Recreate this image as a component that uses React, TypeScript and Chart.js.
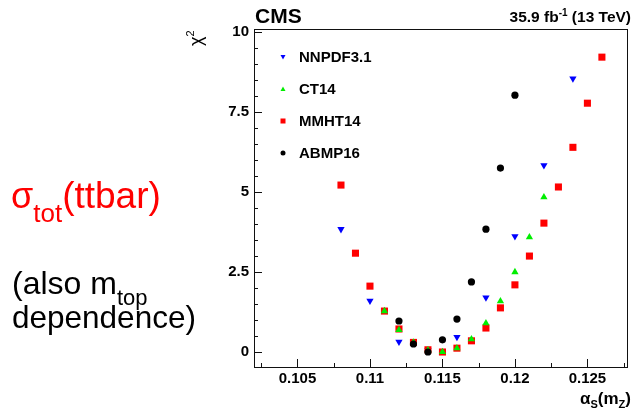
import React, { useEffect, useRef } from "react";
import { Chart, registerables } from "chart.js";
Chart.register(...registerables);

const FONT = '"Liberation Sans", Arial, Helvetica, sans-serif';

// alpha_s(mZ) values and chi2 for each PDF set
const nnpdfX = [0.108, 0.11, 0.112, 0.114, 0.116, 0.118, 0.12, 0.122, 0.124];
const nnpdfY = [3.84, 1.6, 0.32, 0.05, 0.47, 1.7, 3.62, 5.84, 8.55];

const ct14X = [0.111, 0.112, 0.113, 0.114, 0.115, 0.116, 0.117, 0.118, 0.119, 0.12, 0.121, 0.122];
const ct14Y = [1.28, 0.69, 0.3, 0.06, 0.0, 0.12, 0.4, 0.9, 1.59, 2.5, 3.59, 4.84];

const mmhtX = [0.108, 0.109, 0.11, 0.111, 0.112, 0.113, 0.114, 0.115, 0.116, 0.117, 0.118, 0.119, 0.12, 0.121, 0.122, 0.123, 0.124, 0.125, 0.126];
const mmhtY = [5.22, 3.09, 2.06, 1.28, 0.72, 0.3, 0.07, 0.0, 0.12, 0.35, 0.75, 1.38, 2.1, 3.0, 4.03, 5.16, 6.4, 7.78, 9.22];

const abmpX = [0.112, 0.113, 0.114, 0.115, 0.116, 0.117, 0.118, 0.119, 0.12];
const abmpY = [0.97, 0.25, 0.0, 0.38, 1.03, 2.19, 3.84, 5.75, 8.03];

const seriesNames = ["NNPDF3.1", "CT14", "MMHT14", "ABMP16"];

const xTickValues = [0.105, 0.11, 0.115, 0.12, 0.125];
const xMinorValues = [0.1025, 0.1075, 0.1125, 0.1175, 0.1225, 0.1275];
const yTickValues = [0, 2.5, 5, 7.5, 10];
const yMinorValues = [0.5, 1, 1.5, 2, 3, 3.5, 4, 4.5, 5.5, 6, 6.5, 7, 8, 8.5, 9, 9.5];

const toPts = (xs: number[], ys: number[]) => xs.map((x, i) => ({ x, y: ys[i] }));

const deco = {
  id: "deco",
  afterDraw(chart: any) {
    const { ctx, chartArea: a, scales } = chart;
    const xs = scales.x;
    const ys = scales.y;
    ctx.save();
    // frame
    ctx.strokeStyle = "#111";
    ctx.lineWidth = 1;
    ctx.strokeRect(a.left + 0.5, a.top + 0.5, a.right - a.left - 1, a.bottom - a.top - 1);
    const line = (x1: number, y1: number, x2: number, y2: number) => {
      ctx.beginPath();
      ctx.moveTo(x1, y1);
      ctx.lineTo(x2, y2);
      ctx.stroke();
    };
    yTickValues.forEach((v) => {
      const y = Math.round(ys.getPixelForValue(v)) + 0.5;
      line(a.left, y, a.left + 8, y);
    });
    yMinorValues.forEach((v) => {
      const y = Math.round(ys.getPixelForValue(v)) + 0.5;
      line(a.left, y, a.left + 4, y);
    });
    xTickValues.forEach((v) => {
      const x = Math.round(xs.getPixelForValue(v)) + 0.5;
      line(x, a.bottom, x, a.bottom - 9);
    });
    xMinorValues.forEach((v) => {
      const x = Math.round(xs.getPixelForValue(v)) + 0.5;
      line(x, a.bottom, x, a.bottom - 5);
    });

    ctx.textAlign = "left";
    ctx.textBaseline = "alphabetic";
    ctx.fillStyle = "#000";

    // CMS label
    ctx.font = `bold 21px ${FONT}`;
    ctx.fillText("CMS", 255, 23);

    // luminosity label, right aligned
    const p1 = "35.9 fb";
    const p2 = "-1";
    const p3 = " (13 TeV)";
    ctx.font = `bold 15.5px ${FONT}`;
    const w1 = ctx.measureText(p1).width;
    const w3 = ctx.measureText(p3).width;
    ctx.font = `bold 10px ${FONT}`;
    const w2 = ctx.measureText(p2).width;
    let lx = 631 - (w1 + w2 + w3);
    ctx.font = `bold 15.5px ${FONT}`;
    ctx.fillText(p1, lx, 22);
    lx += w1;
    ctx.font = `bold 10px ${FONT}`;
    ctx.fillText(p2, lx, 16);
    lx += w2;
    ctx.font = `bold 15.5px ${FONT}`;
    ctx.fillText(p3, lx, 22);

    // y title chi^2 rotated
    ctx.save();
    ctx.translate(202, 46);
    ctx.rotate(-Math.PI / 2);
    ctx.font = `18px ${FONT}`;
    ctx.fillText("χ", 0, 0);
    const wc = ctx.measureText("χ").width;
    ctx.font = `11px ${FONT}`;
    ctx.fillText("2", wc, -8);
    ctx.restore();

    // x title alpha_S(m_Z)
    const xt = [
      { t: "α", f: `bold 17px ${FONT}`, dy: 0 },
      { t: "S", f: `bold 11px ${FONT}`, dy: 4 },
      { t: "(m", f: `bold 17px ${FONT}`, dy: 0 },
      { t: "Z", f: `bold 11px ${FONT}`, dy: 4 },
      { t: ")", f: `bold 17px ${FONT}`, dy: 0 },
    ];
    let tw = 0;
    xt.forEach((p) => {
      ctx.font = p.f;
      tw += ctx.measureText(p.t).width;
    });
    let tx = 631 - tw;
    xt.forEach((p) => {
      ctx.font = p.f;
      ctx.fillText(p.t, tx, 404 + p.dy);
      tx += ctx.measureText(p.t).width;
    });

    // legend
    const legY = [57, 89, 121, 153];
    const mx = 283;
    ctx.font = `bold 15px ${FONT}`;
    ctx.textBaseline = "middle";
    seriesNames.forEach((n, i) => {
      ctx.fillStyle = "#000";
      ctx.fillText(n, 299, legY[i] + 1);
    });
    // markers
    let y = legY[0];
    ctx.fillStyle = "#0000ff";
    ctx.beginPath();
    ctx.moveTo(mx - 2.5, y - 2);
    ctx.lineTo(mx + 2.5, y - 2);
    ctx.lineTo(mx, y + 2.5);
    ctx.closePath();
    ctx.fill();
    y = legY[1];
    ctx.fillStyle = "#00ee00";
    ctx.beginPath();
    ctx.moveTo(mx - 2.5, y + 2);
    ctx.lineTo(mx + 2.5, y + 2);
    ctx.lineTo(mx, y - 2.5);
    ctx.closePath();
    ctx.fill();
    y = legY[2];
    ctx.fillStyle = "#ff0000";
    ctx.fillRect(mx - 2.5, y - 2.5, 5, 5);
    y = legY[3];
    ctx.fillStyle = "#000";
    ctx.beginPath();
    ctx.arc(mx, y, 2.5, 0, Math.PI * 2);
    ctx.fill();

    // left annotation text
    ctx.textBaseline = "alphabetic";
    ctx.fillStyle = "#ff0000";
    ctx.font = `36px ${FONT}`;
    let sx = 11;
    ctx.fillText("σ", sx, 208);
    sx += ctx.measureText("σ").width;
    ctx.font = `26px ${FONT}`;
    ctx.fillText("tot", sx, 222);
    sx += ctx.measureText("tot").width;
    ctx.font = `37px ${FONT}`;
    ctx.fillText("(ttbar)", sx, 208);

    ctx.fillStyle = "#000";
    ctx.font = `32px ${FONT}`;
    sx = 12;
    ctx.fillText("(also m", sx, 294);
    sx += ctx.measureText("(also m").width;
    ctx.font = `22px ${FONT}`;
    ctx.fillText("top", sx, 305);
    ctx.font = `31.5px ${FONT}`;
    ctx.fillText("dependence)", 12, 328);

    ctx.restore();
  },
};

export default function App() {
  const ref = useRef<HTMLCanvasElement>(null);
  useEffect(() => {
    if (!ref.current) return;
    const chart = new Chart(ref.current, {
      type: "scatter",
      data: {
        datasets: [
          {
            label: seriesNames[3],
            data: toPts(abmpX, abmpY),
            pointStyle: "circle",
            pointRadius: 3.6,
            backgroundColor: "#000000",
            borderColor: "#000000",
            borderWidth: 0,
            order: 0,
          },
          {
            label: seriesNames[1],
            data: toPts(ct14X, ct14Y),
            pointStyle: "triangle",
            pointRadius: 4.2,
            backgroundColor: "#00ee00",
            borderColor: "#00ee00",
            borderWidth: 0,
            order: 1,
          },
          {
            label: seriesNames[2],
            data: toPts(mmhtX, mmhtY),
            pointStyle: "rect",
            pointRadius: 5,
            backgroundColor: "#ff0000",
            borderColor: "#ff0000",
            borderWidth: 0,
            order: 2,
          },
          {
            label: seriesNames[0],
            data: toPts(nnpdfX, nnpdfY),
            pointStyle: "triangle",
            rotation: 180,
            pointRadius: 4.2,
            backgroundColor: "#0000ff",
            borderColor: "#0000ff",
            borderWidth: 0,
            order: 3,
          },
        ],
      },
      options: {
        animation: false,
        responsive: false,
        maintainAspectRatio: false,
        layout: { padding: { left: 200, right: 4, top: 29, bottom: 0 } },
        plugins: { legend: { display: false }, tooltip: { enabled: false } },
        scales: {
          x: {
            type: "linear",
            min: 0.102,
            max: 0.1278,
            grid: { display: false, drawTicks: false },
            border: { display: false },
            afterBuildTicks: (s: any) => {
              s.ticks = xTickValues.map((v) => ({ value: v }));
            },
            afterFit: (s: any) => {
              s.height = 42;
            },
            ticks: {
              autoSkip: false,
              maxRotation: 0,
              padding: 2,
              color: "#000",
              font: { family: FONT, size: 15, weight: "bold" },
              callback: (v: any) => String(v),
            },
          },
          y: {
            type: "linear",
            min: -0.5,
            max: 10.1,
            grid: { display: false, drawTicks: false },
            border: { display: false },
            afterBuildTicks: (s: any) => {
              s.ticks = yTickValues.map((v) => ({ value: v }));
            },
            afterFit: (s: any) => {
              s.width = 54;
            },
            ticks: {
              autoSkip: false,
              padding: 5,
              color: "#000",
              font: { family: FONT, size: 15, weight: "bold" },
              callback: (v: any) => String(v),
            },
          },
        },
      },
      plugins: [deco],
    });
    return () => chart.destroy();
  }, []);
  return (
    <div style={{ position: "absolute", left: 0, top: 0, width: 633, height: 410, background: "#fff" }}>
      <canvas ref={ref} width={633} height={410} style={{ width: 633, height: 410, display: "block" }} />
    </div>
  );
}
